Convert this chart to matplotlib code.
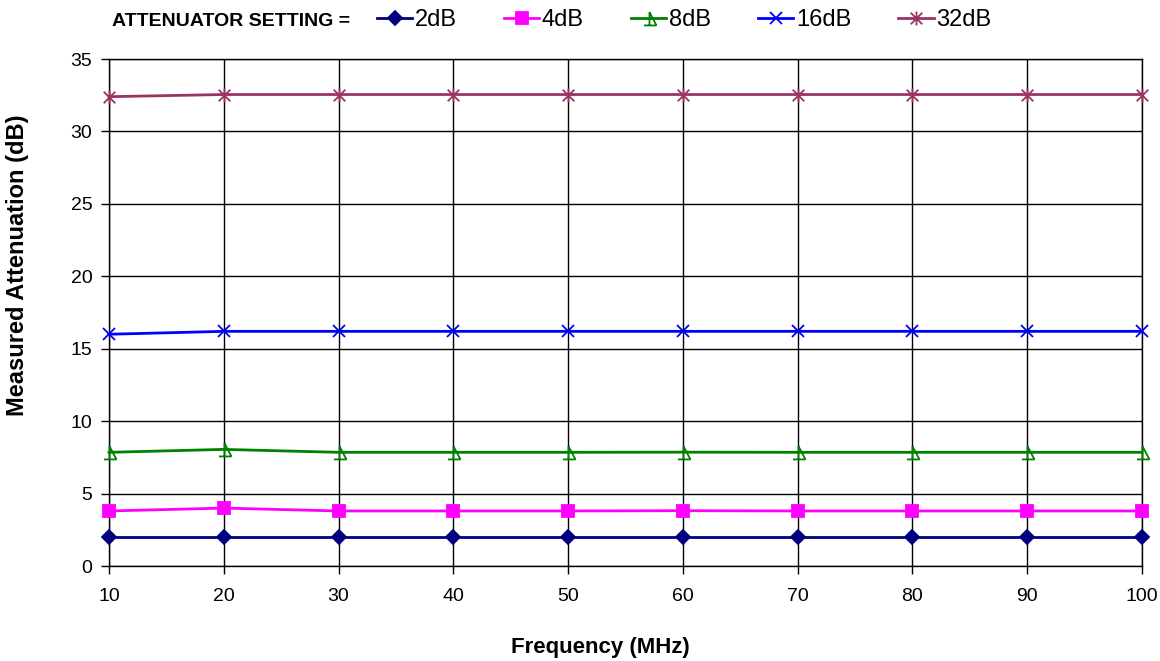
import matplotlib.pyplot as plt
from matplotlib.path import Path

plt.rcParams['font.family'] = ['Liberation Sans', 'DejaVu Sans']

# === dados ===
freq = [10, 20, 30, 40, 50, 60, 70, 80, 90, 100]
att_2db = [2.0, 2.0, 2.0, 2.0, 2.0, 2.0, 2.0, 2.0, 2.0, 2.0]
att_4db = [3.8, 4.0, 3.8, 3.8, 3.8, 3.82, 3.8, 3.8, 3.8, 3.8]
att_8db = [7.85, 8.05, 7.85, 7.85, 7.85, 7.86, 7.85, 7.85, 7.85, 7.85]
att_16db = [16.0, 16.2, 16.2, 16.2, 16.2, 16.2, 16.2, 16.2, 16.2, 16.2]
att_32db = [32.4, 32.55, 32.55, 32.55, 32.55, 32.55, 32.55, 32.55, 32.55, 32.55]
rotulos = ["2dB", "4dB", "8dB", "16dB", "32dB"]

# marcador "triangulo" estilo Excel (so contorno)
tri = Path([(0, 0.9), (0, -1), (0, 0.9), (1, -1), (-0.8, -1), (1, -1)],
           [Path.MOVETO, Path.LINETO, Path.MOVETO, Path.LINETO,
            Path.MOVETO, Path.LINETO])
# asterisco: x + linha vertical
estrela = Path([(-1, -1), (1, 1), (-1, 1), (1, -1), (0, -1.2), (0, 1.2)],
               [Path.MOVETO, Path.LINETO, Path.MOVETO, Path.LINETO,
                Path.MOVETO, Path.LINETO])

fig = plt.figure(figsize=(11.6, 6.61), dpi=100)
ax = fig.add_axes([0.094, 0.1437, 0.8905, 0.767])

series = [att_2db, att_4db, att_8db, att_16db, att_32db]
cores = ["#000080", "#FF00FF", "#008000", "#0000FF", "#993366"]
marcadores = ["D", "s", tri, "x", estrela]
tamanhos = [7, 9, 10, 9, 10]

for y, cor, m, ms, lab in zip(series, cores, marcadores, tamanhos, rotulos):
    ax.plot(freq, y, color=cor, lw=2, marker=m, ms=ms, mew=1.3,
            mfc=cor if m in ("D", "s") else "none", mec=cor, label=lab,
            clip_on=False, zorder=3)

ax.set_xlim(10, 100)
ax.set_ylim(0, 35)
ax.set_xticks(range(10, 101, 10))
ax.set_yticks(range(0, 36, 5))
ax.grid(True, color="black", lw=1)
for s in ax.spines.values():
    s.set_color("black")
    s.set_linewidth(1)
ax.tick_params(axis="x", direction="out", length=6, width=1,
               labelsize=14, pad=10, colors="black")
ax.tick_params(axis="y", direction="out", length=6, width=1,
               labelsize=14, pad=6, colors="black")

# titulos dos eixos
fig.text(18 / 1160, 1 - 265 / 661, "Measured Attenuation (dB)", fontsize=17,
         fontweight="bold", rotation=90, ha="center", va="center")
fig.text(600 / 1160, 1 - 648 / 661, "Frequency (MHz)", fontsize=16,
         fontweight="bold", ha="center", va="center")

# legenda no topo
fig.text(112 / 1160, 1 - 22 / 661, "ATTENUATOR SETTING =", fontsize=14,
         fontweight="bold", va="center")
fig.legend(loc="center left", bbox_to_anchor=(377 / 1160, 1 - 20 / 661), ncol=5,
           frameon=False, fontsize=17, handlelength=1.5, handletextpad=0.1,
           columnspacing=2.0, borderpad=0, borderaxespad=0)

plt.savefig("out.png", dpi=100)
